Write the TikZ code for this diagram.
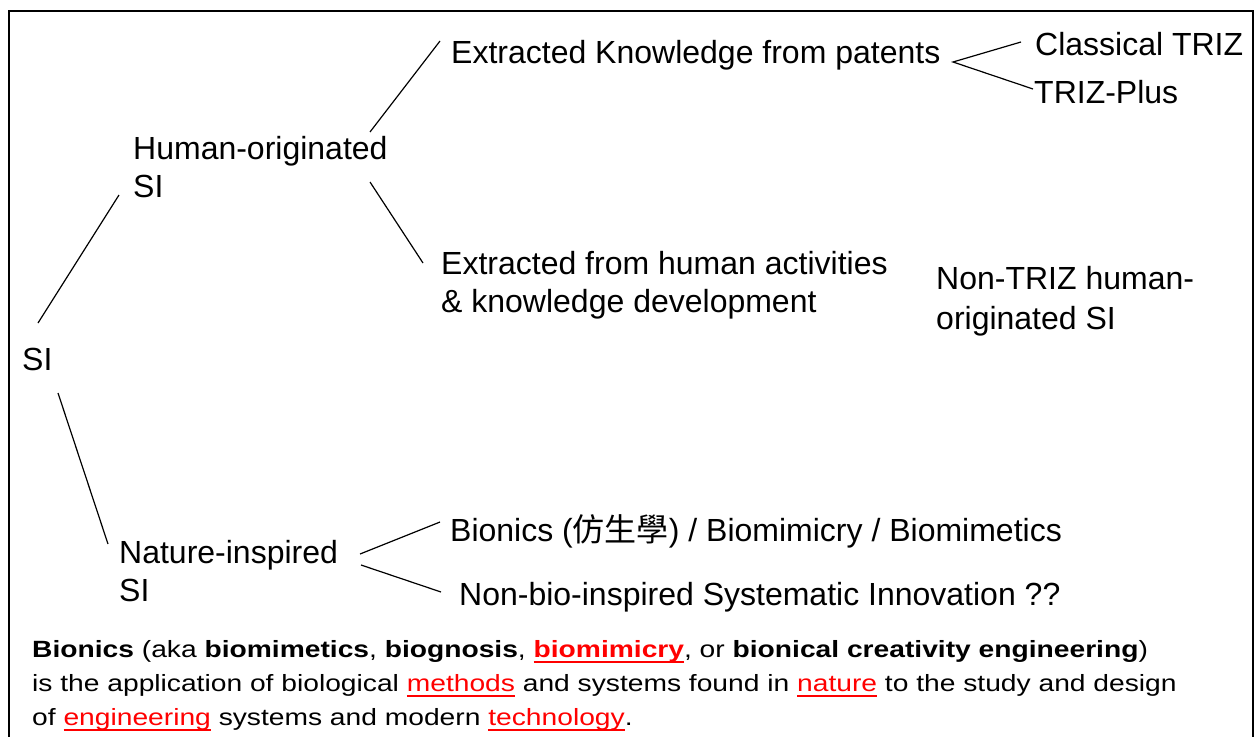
\documentclass[tikz,border=0pt]{standalone}
\usepackage{fontspec}
\setmainfont{Liberation Sans}
\newfontfamily\cjk{Noto Sans CJK TC}
\newfontfamily\notefont[FakeStretch=1.2]{Liberation Sans}
\newcommand\redword[1]{{\color{red}\setbox0\hbox{#1}\rlap{\rule[-6pt]{\wd0}{1.8pt}}\box0}}

\begin{document}
\begin{tikzpicture}[x=1pt,y=-1pt]
        \tikzset{txt/.style={anchor=base west,inner sep=0pt,align=left,font=\fontsize{32}{38}\selectfont},
                 branch/.style={line width=1.2pt}}

        \clip (0,0) rectangle (1257,736);
        \draw[line width=2pt] (9,11) rectangle (1253,760);

        % multi-line nodes sit on the baseline of their last line
        \node[txt] (si) at (22,370) {SI};
        \node[txt] (human) at (133,197) {Human-originated\\SI};
        \node[txt] (nature) at (119,601) {Nature-inspired\\SI};
        \node[txt] (patents) at (451,63) {Extracted Knowledge from patents};
        \node[txt] (classic) at (1035,55) {Classical TRIZ};
        \node[txt] (trizplus) at (1034,103) {TRIZ-Plus};
        \node[txt] (activities) at (441,312) {Extracted from human activities\\\& knowledge development};
        \node[txt,font=\fontsize{32}{40}\selectfont] (nontriz) at (936,329) {Non-TRIZ human-\\originated SI};
        \node[txt] (bionics) at (450,541) {Bionics ({\cjk 仿生學}) / Biomimicry / Biomimetics};
        \node[txt] (nonbio) at (459,605) {Non-bio-inspired Systematic Innovation ??};

        \node[anchor=base west,inner sep=0pt,align=left,font=\notefont\fontsize{23.5}{34}\selectfont] (note) at (32,725)
          {\textbf{Bionics} (aka \textbf{biomimetics}, \textbf{biognosis}, \redword{\textbf{biomimicry}}, or \textbf{bionical creativity engineering})\\
           is the application of biological \redword{methods} and systems found in \redword{nature} to the study and design\\
           of \redword{engineering} systems and modern \redword{technology}.};

        \coordinate (si-up) at (38,323);
        \coordinate (si-down) at (58,393);
        \coordinate (human-in) at (119,195);
        \coordinate (nature-in) at (108,544);
        \coordinate (human-up) at (370,132);
        \coordinate (human-down) at (370,182);
        \coordinate (patents-in) at (440,41);
        \coordinate (activities-in) at (423,263);
        \coordinate (patents-out) at (953,62);
        \coordinate (classic-in) at (1021,42);
        \coordinate (trizplus-in) at (1033,89);
        \coordinate (nature-up) at (360,554);
        \coordinate (nature-down) at (361,565);
        \coordinate (bionics-in) at (440,522);
        \coordinate (nonbio-in) at (441,592);

        \draw[branch] (si-up) -- (human-in);
        \draw[branch] (si-down) -- (nature-in);
        \draw[branch] (human-up) -- (patents-in);
        \draw[branch] (human-down) -- (activities-in);
        \draw[branch] (classic-in) -- (patents-out) -- (trizplus-in);
        \draw[branch] (nature-up) -- (bionics-in);
        \draw[branch] (nature-down) -- (nonbio-in);
    \end{tikzpicture}
\end{document}
